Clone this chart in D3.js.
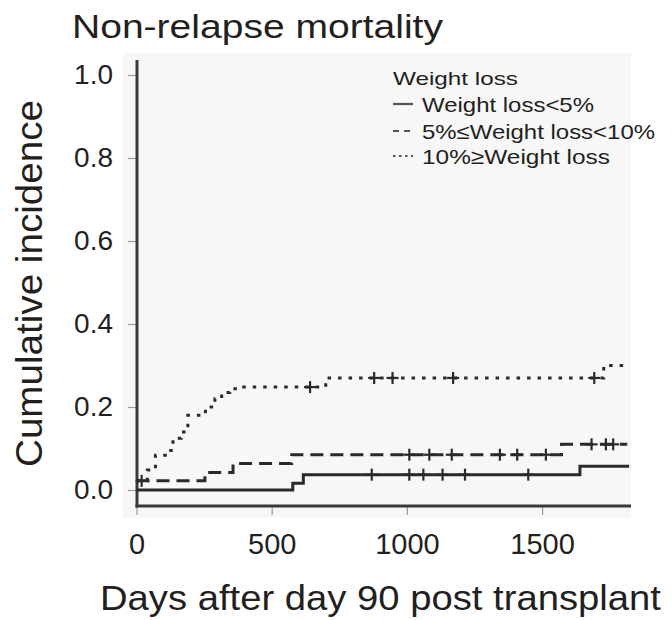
<!DOCTYPE html>
<html>
<head>
<meta charset="utf-8" />
<script src="https://cdn.jsdelivr.net/npm/d3@7/dist/d3.min.js"></script>
<style>
  body { margin: 0; background: #fff; }
  text { font-family: "Liberation Sans", Arial, sans-serif; fill: #231f20; }
</style>
</head>
<body>
<script>
// legend labels, one per group
var groups = ["Weight loss<5%", "5%\u2264Weight loss<10%", "10%\u2265Weight loss"];

// step curves: day where the step starts and cumulative incidence after it
var lt5Days = [0, 578, 617, 1640];
var lt5Cif  = [0, 0.016, 0.037, 0.057];
var lt5Censor = [870, 1009, 1061, 1132, 1215, 1449];

var midDays = [0, 253, 357, 574, 1572];
var midCif  = [0.022, 0.042, 0.064, 0.085, 0.11];
var midCensor = [19, 1009, 1083, 1166, 1344, 1408, 1514, 1683, 1736, 1763];

var ge10Days = [0, 40, 70, 120, 135, 165, 190, 255, 290, 315, 345, 375, 700, 1728];
var ge10Cif  = [0.022, 0.048, 0.084, 0.095, 0.125, 0.14, 0.18, 0.2, 0.22, 0.235, 0.244, 0.248, 0.27, 0.30];
var ge10Censor = [642, 879, 947, 1171, 1693];

var lastDay = [1822, 1815, 1813];

var xTicks = [0, 500, 1000, 1500];
var yTicks = [0, 0.2, 0.4, 0.6, 0.8, 1.0];

var series = [
  { days: lt5Days, cif: lt5Cif, censor: lt5Censor, end: lastDay[0], dash: null },
  { days: midDays, cif: midCif, censor: midCensor, end: lastDay[1], dash: "13,7" },
  { days: ge10Days, cif: ge10Cif, censor: ge10Censor, end: lastDay[2], dash: "3.5,7" }
];
var legendDash = [null, "6,5", "2.5,3.5"];

var svg = d3.select("body").append("svg")
    .attr("width", 672)
    .attr("height", 620);

var x = d3.scaleLinear().domain([0, 1830]).range([136.5, 631.3]);
var y = d3.scaleLinear().domain([0, 1]).range([490, 75]);

// faint panel behind the plot
svg.append("rect")
    .attr("x", 123).attr("y", 53)
    .attr("width", 508).attr("height", 465)
    .attr("fill", "#f7f7f7");

// axes
var yAxis = svg.append("g")
    .attr("transform", "translate(137,0)")
    .call(d3.axisLeft(y).tickValues(yTicks).tickFormat(d3.format(".1f"))
          .tickSize(9).tickPadding(15));
var xAxis = svg.append("g")
    .attr("transform", "translate(0,506)")
    .call(d3.axisBottom(x).tickValues(xTicks).tickFormat(d3.format("d"))
          .tickSize(9).tickPadding(18));

[yAxis, xAxis].forEach(function (g) {
  g.select(".domain").remove();
  g.selectAll(".tick line").attr("stroke", "#9a9a9a").attr("stroke-width", 1.2);
  g.selectAll(".tick text").style("font-size", "28px").attr("fill", "#231f20");
});
xAxis.selectAll(".tick text").style("font-size", "29px");

svg.append("line")
    .attr("x1", 137).attr("x2", 137).attr("y1", 60).attr("y2", 507.5)
    .attr("stroke", "#3a3a3a").attr("stroke-width", 3);
svg.append("line")
    .attr("x1", 135.5).attr("x2", 631).attr("y1", 506).attr("y2", 506)
    .attr("stroke", "#3a3a3a").attr("stroke-width", 3);

// step curves
var line = d3.line()
    .x(function (d) { return x(d[0]); })
    .y(function (d) { return y(d[1]); })
    .curve(d3.curveStepAfter);

series.forEach(function (s) {
  var pts = s.days.map(function (d, i) { return [d, s.cif[i]]; });
  pts.push([s.end, s.cif[s.cif.length - 1]]);
  svg.append("path")
      .datum(pts)
      .attr("d", line)
      .attr("fill", "none")
      .attr("stroke", "#2a2a2a")
      .attr("stroke-width", 3)
      .attr("stroke-dasharray", s.dash);

  // censoring crosses
  var marks = svg.append("g").selectAll("g")
      .data(s.censor)
      .enter().append("g")
      .attr("transform", function (d) {
        var i = d3.bisectRight(s.days, d) - 1;
        return "translate(" + x(d) + "," + y(s.cif[i]) + ")";
      });
  marks.append("line").attr("x1", -6).attr("x2", 6)
      .attr("stroke", "#2a2a2a").attr("stroke-width", 2.2);
  marks.append("line").attr("y1", -6).attr("y2", 6)
      .attr("stroke", "#2a2a2a").attr("stroke-width", 2.2);
});

// legend
svg.append("text")
    .attr("x", 393).attr("y", 85)
    .attr("textLength", 125).attr("lengthAdjust", "spacingAndGlyphs")
    .style("font-size", "19px")
    .text("Weight loss");

var legendBase = [112, 139, 164];
var legendWidth = [172, 233, 188];
groups.forEach(function (g, i) {
  svg.append("line")
      .attr("x1", 393).attr("x2", 413)
      .attr("y1", legendBase[i] - 8).attr("y2", legendBase[i] - 8)
      .attr("stroke", "#555").attr("stroke-width", 2.2)
      .attr("stroke-dasharray", legendDash[i]);
  svg.append("text")
      .attr("x", 422).attr("y", legendBase[i])
      .attr("textLength", legendWidth[i]).attr("lengthAdjust", "spacingAndGlyphs")
      .style("font-size", "21px")
      .text(g);
});

// titles
svg.append("text")
    .attr("x", 72).attr("y", 38)
    .attr("textLength", 371).attr("lengthAdjust", "spacingAndGlyphs")
    .style("font-size", "33px")
    .text("Non-relapse mortality");

svg.append("text")
    .attr("transform", "translate(42,283.5) rotate(-90)")
    .attr("text-anchor", "middle")
    .attr("textLength", 367).attr("lengthAdjust", "spacingAndGlyphs")
    .style("font-size", "36px")
    .text("Cumulative incidence");

svg.append("text")
    .attr("x", 100).attr("y", 610)
    .attr("textLength", 561).attr("lengthAdjust", "spacingAndGlyphs")
    .style("font-size", "35px")
    .text("Days after day 90 post transplant");
</script>
</body>
</html>
